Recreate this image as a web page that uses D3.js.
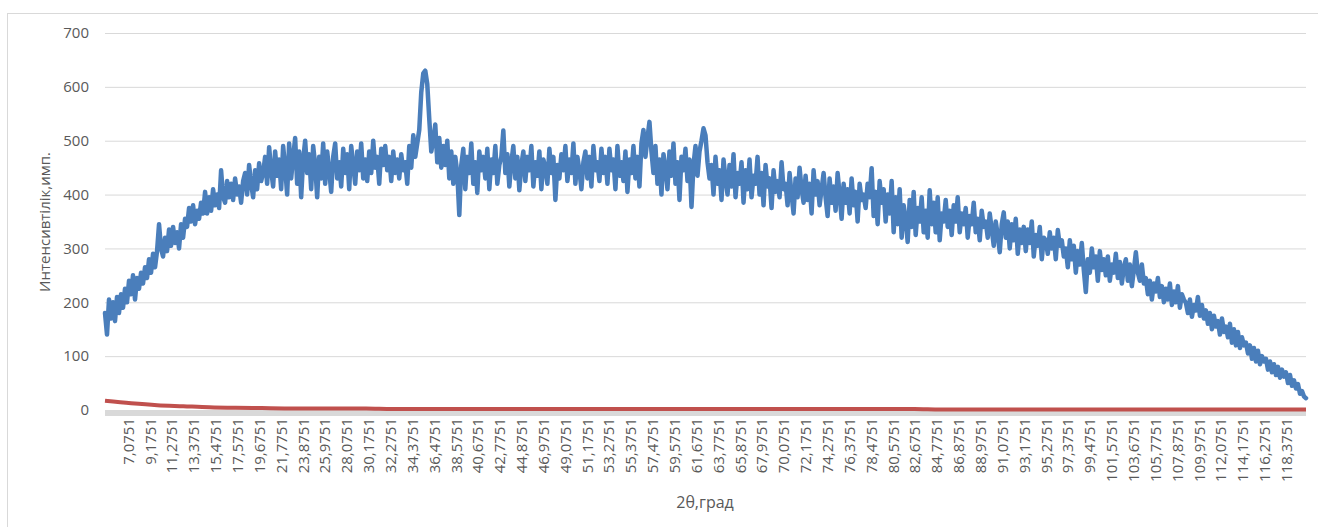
<!DOCTYPE html>
<html>
<head>
<meta charset="utf-8">
<script src="https://cdn.jsdelivr.net/npm/d3@7"></script>
<style>
  html, body { margin: 0; padding: 0; background: #fff; }
  svg { display: block; }
  text { font-family: "Open Sans", "DejaVu Sans", sans-serif; fill: #595959; }
</style>
</head>
<body>
<svg id="chart" width="1318" height="527"></svg>
<script>
// ---- data ----
const thetaStart = 4.8;
const thetaEnd = 120.2;

// intensity (blue series), evenly spaced over [thetaStart, thetaEnd]
const intensity = [
  180,140,205,170,200,165,210,180,215,190,
  225,200,240,215,250,205,245,225,255,235,
  265,245,280,255,290,265,295,345,300,285,
  320,295,335,305,340,310,330,300,345,320,
  355,340,375,350,380,345,370,355,385,365,
  405,365,395,370,410,380,400,375,445,395,
  385,425,395,420,390,430,400,415,385,425,
  440,400,455,420,395,445,410,458,425,440,
  470,420,488,445,415,480,435,465,410,490,
  450,400,495,430,470,505,420,480,395,465,
  500,440,475,410,490,455,395,470,430,495,
  420,480,445,405,470,495,430,460,415,485,
  440,475,410,490,455,420,480,445,495,430,
  465,425,480,440,500,450,470,420,485,455,
  490,445,470,425,480,440,465,430,475,445,
  460,420,490,450,510,470,495,520,590,625,
  630,605,540,480,500,530,460,505,450,490,
  455,500,430,480,420,470,440,362,455,485,
  410,470,440,495,420,460,403,480,445,470,
  430,485,410,465,440,490,420,455,470,519,
  440,475,415,460,490,430,470,408,455,480,
  425,470,445,490,415,460,435,480,410,465,
  450,420,485,440,470,390,455,430,475,445,
  490,425,465,440,495,420,470,445,410,460,
  480,430,470,415,490,445,460,425,485,440,
  470,420,485,445,465,410,490,435,460,425,
  480,405,465,440,490,430,470,415,495,520,
  470,505,535,480,440,490,420,465,400,475,
  450,410,480,435,495,420,460,390,470,445,
  485,425,465,377,455,490,435,480,500,523,
  510,460,430,455,400,470,420,445,390,465,
  430,400,455,415,475,395,440,420,460,385,
  445,410,465,395,435,420,470,400,440,380,
  455,415,430,375,445,405,425,395,460,410,
  420,380,440,400,365,430,395,450,410,385,
  435,390,420,365,445,400,425,380,410,440,
  395,360,430,385,415,370,440,400,355,420,
  385,410,365,430,380,405,350,420,390,400,
  375,420,395,449,360,405,345,425,385,410,
  350,400,365,425,330,395,345,410,320,380,
  355,312,390,340,405,325,375,350,395,330,
  370,320,408,345,385,330,395,315,365,350,
  390,340,370,325,380,350,395,330,365,345,
  375,320,360,345,385,330,355,315,370,340,
  350,320,365,335,305,350,325,293,345,367,
  320,350,300,345,315,355,290,335,310,340,
  295,335,310,350,285,325,305,340,280,320,
  315,290,330,300,320,280,334,305,315,285,
  300,265,315,280,305,255,295,270,310,260,
  219,280,255,300,265,285,240,295,260,280,
  250,285,240,270,255,290,245,275,235,265,
  280,240,270,230,260,293,255,240,270,235,
  245,215,240,205,235,220,245,210,230,200,
  225,205,235,195,220,200,230,190,215,205,
  199,180,205,173,195,185,210,175,195,170,
  185,160,180,150,175,155,165,140,170,145,
  155,135,160,125,150,120,145,115,135,120,
  125,105,120,95,115,90,110,85,100,90,
  95,75,90,70,85,65,80,60,75,62,
  70,50,65,45,55,40,48,30,35,25,
  22
];

// background (red series), evenly spaced over [thetaStart, thetaEnd]
const background = [
  17,12.5,9,7,5,4,3.5,3,3,3,3,2,2,2,2,2,2,2,2,2,2,2,2,2,2,2,2,2,2,2,2,2,
  1,1,1,1,1,1,1,1,1,1,1,1,1,1,1
];

// category tick labels
const xTickLabels = [
  "7,0751","9,1751","11,2751","13,3751","15,4751","17,5751","19,6751","21,7751",
  "23,8751","25,9751","28,0751","30,1751","32,2751","34,3751","36,4751","38,5751",
  "40,6751","42,7751","44,8751","46,9751","49,0751","51,1751","53,2751","55,3751",
  "57,4751","59,5751","61,6751","63,7751","65,8751","67,9751","70,0751","72,1751",
  "74,2751","76,3751","78,4751","80,5751","82,6751","84,7751","86,8751","88,9751",
  "91,0751","93,1751","95,2751","97,3751","99,4751","101,5751","103,6751","105,7751",
  "107,8751","109,9751","112,0751","114,1751","116,2751","118,3751"
];
const yTicks = [0,100,200,300,400,500,600,700];

const yTitle = "Интенсивтілік,имп.";
const xTitle = "2θ,град";

// ---- layout ----
const svg = d3.select("#chart");
const L = 105, R = 1306, T = 33, B = 410;

const x = d3.scaleLinear().domain([thetaStart, thetaEnd]).range([L, R]);
const y = d3.scaleLinear().domain([0, 700]).range([B, T]);

// chart area border
svg.append("rect")
  .attr("x", 7.5).attr("y", 13.5).attr("width", 1320).attr("height", 530)
  .attr("fill", "none").attr("stroke", "#d9d9d9").attr("stroke-width", 1);

// gridlines + y labels
const yAxis = d3.axisLeft(y).tickValues(yTicks).tickSize(-(R - L)).tickPadding(16).tickFormat(d3.format("d"));
const gy = svg.append("g").attr("transform", `translate(${L},0)`).call(yAxis);
gy.select(".domain").remove();
gy.selectAll(".tick line").attr("stroke", "#d9d9d9").attr("stroke-width", 1);
gy.selectAll(".tick text").style("font-size", "15px").attr("fill", "#595959");

// x axis line (thick light grey band under zero)
svg.append("line")
  .attr("x1", L).attr("x2", R).attr("y1", B + 3).attr("y2", B + 3)
  .attr("stroke", "#d9d9d9").attr("stroke-width", 6);

// x tick labels
const xTickVals = xTickLabels.map(s => parseFloat(s.replace(",", ".")));
const gx = svg.append("g");
gx.selectAll("text").data(xTickLabels).enter().append("text")
  .attr("transform", (d, i) => `translate(${x(xTickVals[i]) + 5},418) rotate(-90)`)
  .attr("text-anchor", "end")
  .style("font-size", "15px")
  .text(d => d);

// series
const stepI = (thetaEnd - thetaStart) / (intensity.length - 1);
const stepB = (thetaEnd - thetaStart) / (background.length - 1);
const line = d3.line().x(d => x(d[0])).y(d => y(d[1]));

svg.append("path")
  .datum(background.map((v, i) => [thetaStart + i * stepB, v]))
  .attr("d", d3.line().curve(d3.curveMonotoneX).x(d => x(d[0])).y(d => y(d[1])))
  .attr("fill", "none").attr("stroke", "#c0504d").attr("stroke-width", 4)
  .attr("stroke-linejoin", "round");

svg.append("path")
  .datum(intensity.map((v, i) => [thetaStart + i * stepI, v]))
  .attr("d", line)
  .attr("fill", "none").attr("stroke", "#4a7ebb").attr("stroke-width", 4.5)
  .attr("stroke-linejoin", "round").attr("stroke-linecap", "round");

// titles
svg.append("text")
  .attr("transform", `translate(50,222) rotate(-90)`)
  .attr("text-anchor", "middle")
  .style("font-size", "15px")
  .text(yTitle);

svg.append("text")
  .attr("x", 705).attr("y", 508)
  .attr("text-anchor", "middle")
  .style("font-size", "16px")
  .text(xTitle);
</script>
</body>
</html>
